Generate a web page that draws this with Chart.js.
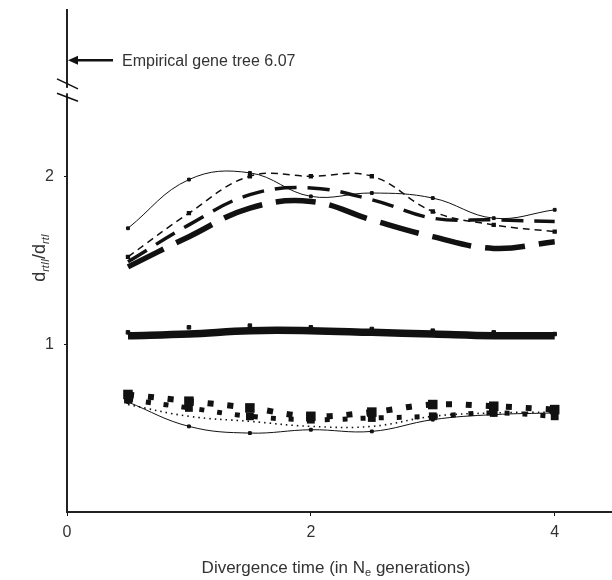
<!DOCTYPE html>
<html>
<head>
<meta charset="utf-8">
<script src="https://cdn.jsdelivr.net/npm/chart.js@4"></script>
<style>
  body { margin: 0; background: #fff; }
  #wrap { width: 612px; height: 580px; }
</style>
</head>
<body>
<div id="wrap"><canvas id="chart" width="612" height="580"></canvas></div>
<script>
// divergence times (Ne generations)
const times = [0.5, 1, 1.5, 2, 2.5, 3, 3.5, 4];

// upper group
const upperThin   = [1.69, 1.98, 2.02, 1.88, 1.90, 1.87, 1.75, 1.80];
const upperDash   = [1.52, 1.78, 2.00, 2.00, 2.00, 1.79, 1.71, 1.67];
const upperMedium = [1.49, 1.71, 1.89, 1.93, 1.86, 1.75, 1.74, 1.73];
const upperThick  = [1.46, 1.64, 1.81, 1.85, 1.74, 1.64, 1.57, 1.61];

// middle group
const midThin  = [1.07, 1.10, 1.11, 1.10, 1.09, 1.08, 1.07, 1.06];
const midThick = [1.05, 1.06, 1.08, 1.08, 1.07, 1.06, 1.05, 1.05];

// lower group
const lowThin   = [0.655, 0.51, 0.47, 0.49, 0.48, 0.55, 0.58, 0.59];
const lowDotted = [0.64, 0.57, 0.54, 0.51, 0.51, 0.57, 0.59, 0.595];
const lowSqHigh = [0.70, 0.66, 0.62, 0.57, 0.595, 0.64, 0.63, 0.61];
const lowSqLow  = [0.67, 0.62, 0.57, 0.55, 0.56, 0.57, 0.59, 0.57];

const xTicks = [0, 2, 4];
const yTicks = [1, 2];
const empiricalLabel = 'Empirical gene tree 6.07';
const empiricalValue = 2.69; // drawn above the axis break

const INK = '#111';
const TEXT = '#333';
const FONT = '"Liberation Sans", Arial, sans-serif';

function pts(ys) {
  return times.map((t, i) => ({ x: t, y: ys[i] }));
}

function series(ys, opts) {
  return Object.assign({
    data: pts(ys),
    borderColor: INK,
    backgroundColor: INK,
    borderWidth: 1,
    pointRadius: 0,
    tension: 0.4,
    fill: false
  }, opts);
}

const datasets = [
  series(upperThick,  { borderWidth: 5.5, borderDash: [40, 14] }),
  series(upperMedium, { borderWidth: 3.5, borderDash: [22, 11] }),
  series(upperDash,   { borderWidth: 1.5, borderDash: [7, 5], pointRadius: 2, pointStyle: 'rect' }),
  series(upperThin,   { borderWidth: 1, pointRadius: 2, pointStyle: 'rect' }),
  series(midThick,    { borderWidth: 7.5 }),
  series(midThin,     { borderWidth: 1, borderColor: '#fff', pointRadius: 2.5, pointStyle: 'rect',
                        pointBorderColor: INK }),
  series(lowSqHigh,   { borderWidth: 6, borderDash: [6, 14], pointRadius: 2.5, pointStyle: 'rect' }),
  series(lowSqLow,    { borderWidth: 5, borderDash: [5, 13], pointRadius: 2, pointStyle: 'rect' }),
  series(lowDotted,   { borderWidth: 1.6, borderDash: [1.5, 4] }),
  series(lowThin,     { borderWidth: 1, pointRadius: 2, pointStyle: 'rect' })
];

const decorations = {
  id: 'decorations',
  afterDraw(chart) {
    const { ctx, scales: { x, y } } = chart;
    const ax = x.getPixelForValue(0);
    ctx.save();

    // axis break
    const b1 = y.getPixelForValue(2.55), b2 = y.getPixelForValue(2.47);
    ctx.fillStyle = '#fff';
    ctx.fillRect(ax - 3, b1 + 4, 6, b2 - b1 - 8);
    ctx.strokeStyle = INK;
    ctx.lineWidth = 1.5;
    ctx.beginPath();
    ctx.moveTo(ax - 10, b1 - 5); ctx.lineTo(ax + 11, b1 + 5);
    ctx.moveTo(ax - 10, b2 - 4); ctx.lineTo(ax + 11, b2 + 4);
    ctx.stroke();

    // arrow to empirical value
    const ay = y.getPixelForValue(empiricalValue);
    ctx.lineWidth = 2.5;
    ctx.beginPath();
    ctx.moveTo(ax + 46, ay); ctx.lineTo(ax + 8, ay);
    ctx.stroke();
    ctx.fillStyle = INK;
    ctx.beginPath();
    ctx.moveTo(ax + 1, ay); ctx.lineTo(ax + 11, ay - 4.5); ctx.lineTo(ax + 11, ay + 4.5);
    ctx.closePath(); ctx.fill();
    ctx.fillStyle = TEXT;
    ctx.font = '16px ' + FONT;
    ctx.textBaseline = 'middle';
    ctx.fillText(empiricalLabel, ax + 55, ay + 1);

    // x title with subscript
    const xt1 = 'Divergence time (in N', xs = 'e', xt2 = ' generations)';
    ctx.font = '17px ' + FONT;
    const w1 = ctx.measureText(xt1).width, w3 = ctx.measureText(xt2).width;
    ctx.font = '11px ' + FONT;
    const w2 = ctx.measureText(xs).width;
    let cx = 336 - (w1 + w2 + w3) / 2;
    const ty = 567;
    ctx.textBaseline = 'alphabetic';
    ctx.font = '17px ' + FONT; ctx.fillText(xt1, cx, ty + 6); cx += w1;
    ctx.font = '11px ' + FONT; ctx.fillText(xs, cx, ty + 9); cx += w2;
    ctx.font = '17px ' + FONT; ctx.fillText(xt2, cx, ty + 6);

    // y title, rotated, with italic subscripts
    const parts = [['d', '18px ', 0], ['rtII', 'italic 11px ', 4], ['/d', '18px ', 0], ['rtI', 'italic 11px ', 4]];
    let total = 0;
    parts.forEach(p => { ctx.font = p[1] + FONT; p.push(ctx.measureText(p[0]).width); total += p[3]; });
    ctx.translate(40, 258);
    ctx.rotate(-Math.PI / 2);
    let px = -total / 2;
    parts.forEach(p => {
      ctx.font = p[1] + FONT;
      ctx.fillText(p[0], px, 5 + p[2]);
      px += p[3];
    });
    ctx.restore();
  }
};

new Chart(document.getElementById('chart'), {
  type: 'line',
  data: { datasets },
  plugins: [decorations],
  options: {
    responsive: false,
    animation: false,
    layout: { autoPadding: false, padding: { top: 10, right: 0, left: 0, bottom: 0 } },
    plugins: { legend: { display: false }, tooltip: { enabled: false } },
    scales: {
      x: {
        type: 'linear',
        min: 0,
        max: 4.47,
        afterBuildTicks: s => { s.ticks = xTicks.map(v => ({ value: v })); },
        afterFit: s => { s.height = 68; s.paddingLeft = 0; s.paddingRight = 0; },
        grid: { drawOnChartArea: false, drawTicks: true, tickLength: 4, color: INK },
        border: { display: true, color: '#222', width: 2 },
        ticks: { color: TEXT, font: { family: FONT, size: 16 }, padding: 7, maxRotation: 0 }
      },
      y: {
        min: 0,
        max: 2.99,
        afterBuildTicks: s => { s.ticks = yTicks.map(v => ({ value: v })); },
        afterFit: s => { s.width = 67; s.paddingTop = 0; s.paddingBottom = 0; },
        grid: { drawOnChartArea: false, drawTicks: true, tickLength: 3, color: INK },
        border: { display: true, color: '#222', width: 2 },
        ticks: { color: TEXT, font: { family: FONT, size: 16 }, padding: 10 }
      }
    }
  }
});
</script>
</body>
</html>
